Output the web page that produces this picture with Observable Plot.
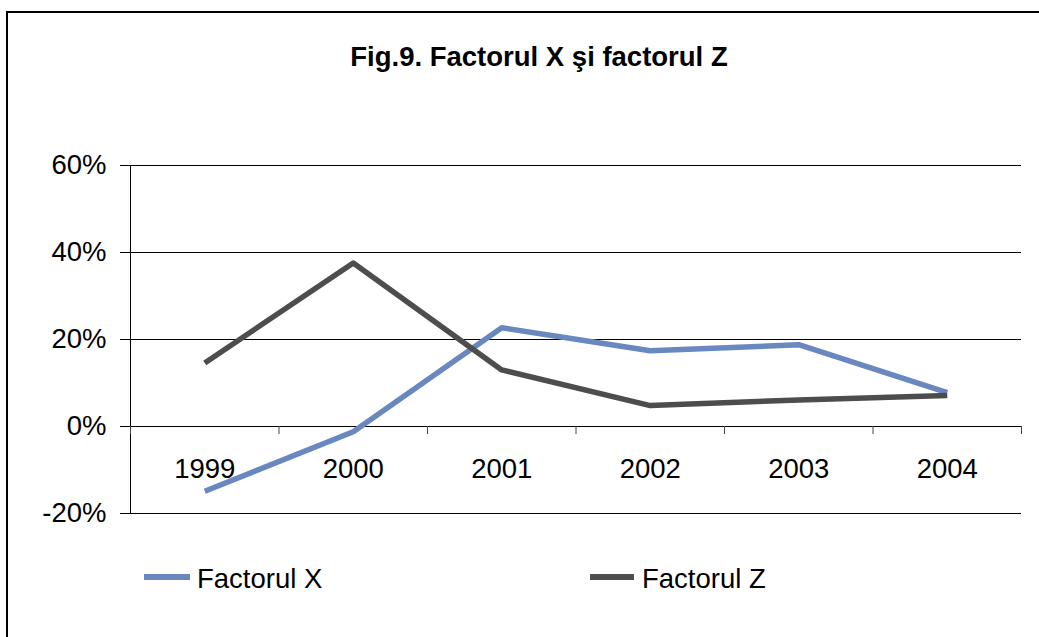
<!DOCTYPE html>
<html>
<head>
<meta charset="utf-8">
<script src="https://cdn.jsdelivr.net/npm/d3@7"></script>
<script src="https://cdn.jsdelivr.net/npm/@observablehq/plot@0.6"></script>
<style>
  html, body { margin: 0; padding: 0; background: #fff; overflow: hidden; }
  body { width: 1039px; height: 637px; position: relative; font-family: "Liberation Sans", Arial, sans-serif; }
  #frame { position: absolute; left: 6px; top: 11px; width: 1200px; height: 800px;
           border-left: 2px solid #000; border-top: 2px solid #000; }
  #title { position: absolute; left: 0; top: 43px; width: 1078px; text-align: center;
           font-weight: bold; font-size: 27.5px; line-height: 27.5px; color: #000; }
  #chart { position: absolute; left: 0; top: 100px; }
  .leg { position: absolute; top: 574px; height: 6px; }
  .legtxt { position: absolute; top: 565px; font-size: 27.5px; line-height: 27.5px; color: #000; }
</style>
</head>
<body>
<div id="frame"></div>
<div id="title">Fig.9. Factorul X şi factorul Z</div>
<div id="chart"></div>
<div class="leg" id="sw1" style="left:144px;width:46px;"></div>
<div class="legtxt" style="left:197px;">Factorul X</div>
<div class="leg" id="sw2" style="left:590px;width:44px;"></div>
<div class="legtxt" style="left:642px;">Factorul Z</div>
<script>
// ---- data ----
const years = [1999, 2000, 2001, 2002, 2003, 2004];
const seriesNames = ["Factorul X", "Factorul Z"];
const factorX = [-0.149, -0.012, 0.227, 0.174, 0.188, 0.078];
const factorZ = [0.146, 0.376, 0.130, 0.048, 0.061, 0.071];
const yTicks = [-0.2, 0, 0.2, 0.4, 0.6];
const colors = ["#6888bf", "#4d4d4d"];

document.getElementById("sw1").style.background = colors[0];
document.getElementById("sw2").style.background = colors[1];

const rows = [];
years.forEach((yr, i) => {
  rows.push({year: yr, value: factorX[i], series: seriesNames[0]});
  rows.push({year: yr, value: factorZ[i], series: seriesNames[1]});
});
// category boundaries (between years)
const bounds = years.map(y => y - 0.5).concat([years[years.length - 1] + 0.5]);

const chart = Plot.plot({
  width: 1039,
  height: 440,
  marginLeft: 130,
  marginRight: 18,
  marginTop: 65,
  marginBottom: 27,
  style: {fontFamily: "Liberation Sans, Arial, sans-serif", fontSize: "27.5px", color: "#000", background: "transparent"},
  x: {domain: [bounds[0], bounds[bounds.length - 1]], axis: null},
  y: {domain: [-0.2, 0.6], axis: null},
  color: {domain: seriesNames, range: colors},
  marks: [
    Plot.ruleY(yTicks, {stroke: "#000", strokeWidth: 1}),
    Plot.axisY({ticks: yTicks, tickSize: 10, tickPadding: 14, label: null,
                tickFormat: d => Math.round(d * 100) + "%", stroke: "#000", fill: "#000"}),
    Plot.ruleX([bounds[0]], {stroke: "#000", strokeWidth: 1}),
    Plot.ruleX(bounds, {x: d => d, y1: 0, y2: 0, insetBottom: -8, stroke: "#444", strokeWidth: 1}),
    Plot.text(years, {x: d => d, y: 0, dy: 43, text: d => String(d), fill: "#000", lineAnchor: "middle"}),
    Plot.line(rows, {x: "year", y: "value", z: "series", stroke: "series", strokeWidth: 5.5,
                     strokeLinejoin: "round", strokeLinecap: "butt"})
  ]
});
document.getElementById("chart").appendChild(chart);
</script>
</body>
</html>
